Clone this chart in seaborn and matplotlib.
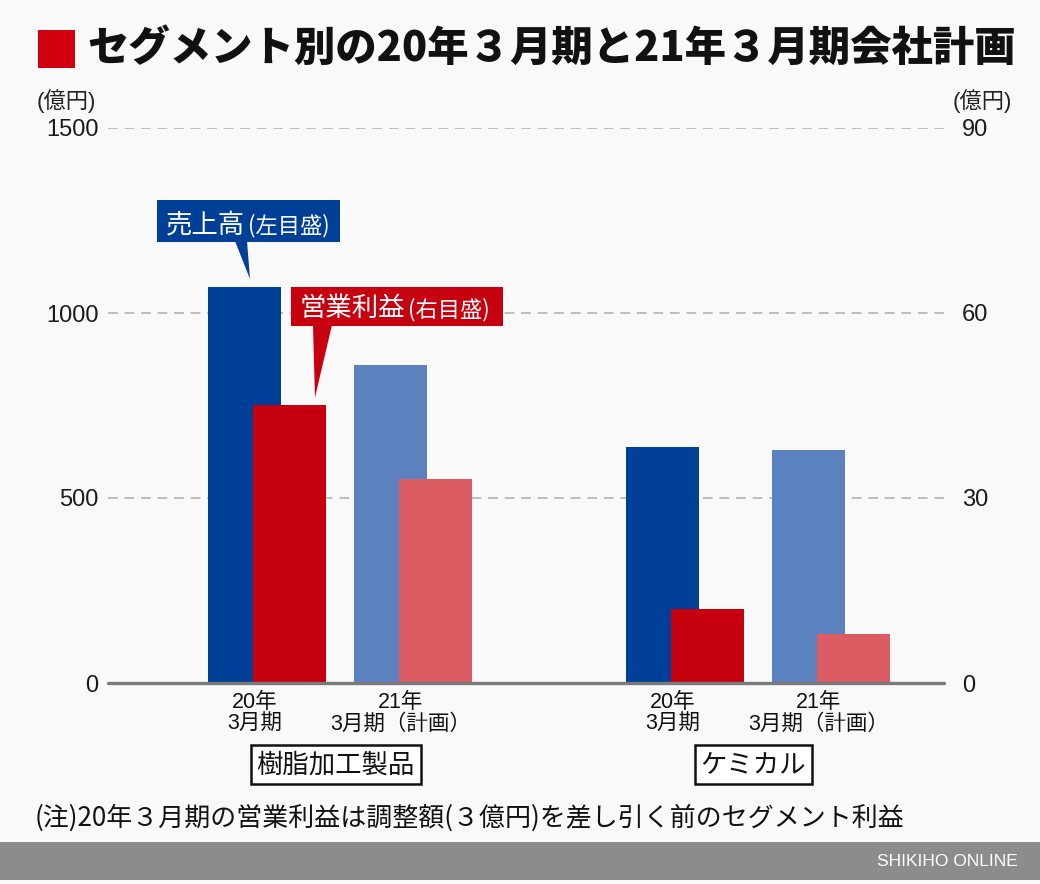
import numpy as np
import pandas as pd
import matplotlib
matplotlib.use("Agg")
import matplotlib.pyplot as plt
import seaborn as sns
from matplotlib.patches import Rectangle, Polygon
from matplotlib.transforms import IdentityTransform

# ---------------- data ----------------
segments = ["樹脂加工製品", "ケミカル"]
periods = ["20年\n3月期", "21年\n3月期（計画）"]
sales = [1070, 860, 638, 630]      # 売上高（億円・左目盛）
profit = [45, 33, 12, 8]           # 営業利益（億円・右目盛）
left_ticks = [0, 500, 1000, 1500]
right_ticks = [0, 30, 60, 90]

title = "セグメント別の20年３月期と21年３月期会社計画"
unit_label = "(億円)"
sales_label = ("売上高", "(左目盛)")
profit_label = ("営業利益", "(右目盛)")
note = "(注)20年３月期の営業利益は調整額(３億円)を差し引く前のセグメント利益"
source = "SHIKIHO ONLINE"

# ---------------- style ----------------
W, H = 1040, 884
BG = "#f9f9f9"
DARK_BLUE, LIGHT_BLUE = "#003f98", "#5b82bf"
RED, LIGHT_RED = "#c6000f", "#db5c63"

sns.set_theme(style="white")
plt.rcParams['font.family'] = ['Liberation Sans', 'Noto Sans CJK JP']
JP = ['Noto Sans CJK JP', 'Liberation Sans']

seg_gap = 2.86
bar_w = 0.5
offset = 0.308

rows_s, rows_p = [], []
k = 0
for i, seg in enumerate(segments):
    for j, per in enumerate(periods):
        x = i * seg_gap + j
        rows_s.append({"x": x, "v": sales[k], "period": per, "seg": seg})
        rows_p.append({"x": x + offset, "v": profit[k], "period": per, "seg": seg})
        k += 1
df_s = pd.DataFrame(rows_s)
df_p = pd.DataFrame(rows_p)

fig = plt.figure(figsize=(W / 100, H / 100), dpi=100, facecolor=BG)
ax = fig.add_axes([108 / W, 1 - 683 / H, 836 / W, 555 / H])
ax.set_facecolor(BG)
ax2 = ax.twinx()
ax2.patch.set_visible(False)

sns.barplot(data=df_s, x="x", y="v", hue="period",
            palette={periods[0]: DARK_BLUE, periods[1]: LIGHT_BLUE},
            native_scale=True, width=bar_w, dodge=False, saturation=1,
            legend=False, linewidth=0, errorbar=None, ax=ax)
sns.barplot(data=df_p, x="x", y="v", hue="period",
            palette={periods[0]: RED, periods[1]: LIGHT_RED},
            native_scale=True, width=bar_w, dodge=False, saturation=1,
            legend=False, linewidth=0, errorbar=None, ax=ax2)

xmin, xmax = -0.935, 4.791
for a in (ax, ax2):
    a.set_xlim(xmin, xmax)
    a.set_xticks([])
    a.set_xlabel("")
    a.set_ylabel("")
    for s in a.spines.values():
        s.set_visible(False)
ax.set_ylim(0, 1500)
ax2.set_ylim(0, 90)
ax.set_yticks(left_ticks)
ax2.set_yticks(right_ticks)
ax.set_yticklabels([str(t) for t in left_ticks])
ax2.set_yticklabels([str(t) for t in right_ticks])
ax.tick_params(axis="y", length=0, pad=7, labelsize=17, labelcolor="#1a1a1a")
ax2.tick_params(axis="y", length=0, pad=13, labelsize=17, labelcolor="#1a1a1a")
ax.grid(False)
ax2.grid(False)
for t in left_ticks[1:]:
    ax.axhline(t, color="#bdbdbd", lw=1.4, ls=(0, (5, 3.5)), zorder=0.5)
ax2.axhline(0, color="#7a7a7a", lw=2.4, zorder=5, clip_on=False)

# category labels
xt = ax.get_xaxis_transform()
for x, per in zip(df_s["x"], df_s["period"]):
    ax.text(x + 0.07, -0.054, per, transform=xt, ha="center", va="center",
            fontsize=15.5, linespacing=1.05, color="#111", family=JP[::-1])
for i, seg in enumerate(segments):
    cx = (df_s["x"][df_s["seg"] == seg].mean() + df_p["x"][df_p["seg"] == seg].mean()) / 2 - 0.03
    ax.text(cx, -0.147, seg, transform=xt, ha="center", va="center",
            fontsize=19, color="#111", family=JP,
            bbox=dict(boxstyle="square,pad=0.22", fc="white", ec="#111", lw=1.8))

# unit labels
fig.text(37 / W, 1 - 101 / H, unit_label, ha="left", va="center", fontsize=16, color="#222")
fig.text(953 / W, 1 - 101 / H, unit_label, ha="left", va="center", fontsize=16, color="#222")

# title
fig.add_artist(Rectangle((38 / W, 1 - 68 / H), 37 / W, 38 / H, transform=fig.transFigure,
                         fc="#d0000f", ec="none"))
fig.text(87 / W, 1 - 49 / H, title, ha="left", va="center", fontsize=29.8,
         fontweight="black", color="#111", family=JP)

# callouts (anchored to bar tops)
fig.canvas.draw()
idt = IdentityTransform()

def callout(axis, x, y, dx, box, base, texts, color, sizes):
    tx, ty = axis.transData.transform((x, y))
    tip = (tx + dx, ty + 8)
    x0, x1, ytop, ybot = box  # pixel, top-origin
    fig.add_artist(Rectangle((x0, H - ybot), x1 - x0, ybot - ytop, transform=idt,
                             fc=color, ec="none", zorder=10))
    fig.add_artist(Polygon([(base[0], H - ybot + 1), (base[1], H - ybot + 1), tip],
                           closed=True, transform=idt, fc=color, ec="none", zorder=10))
    t1 = fig.text(0, 0, texts[0], transform=idt, fontsize=sizes[0], color="white",
                  family=JP, va="baseline", ha="left", zorder=11)
    t1.set_position((x0 + 9, H - ybot + 10))
    fig.canvas.draw()
    bb = t1.get_window_extent()
    fig.text(bb.x1 + 3, H - ybot + 10, texts[1], transform=idt, fontsize=sizes[1],
             color="white", family=JP, va="baseline", ha="left", zorder=11)

callout(ax, df_s["x"][0], sales[0], 5.5, (157, 340, 200, 242), (235, 247),
        sales_label, DARK_BLUE, (19, 16))
callout(ax2, df_p["x"][0], profit[0], 25.5, (291, 503, 287, 326), (313, 332),
        profit_label, RED, (19, 16))

# note
fig.text(35 / W, 1 - 818 / H, note, ha="left", va="center", fontsize=18.7,
         color="#111", family=JP)

# footer band
fig.add_artist(Rectangle((0, 1 - 880 / H), 1, 38 / H, transform=fig.transFigure,
                         fc="#8c8c8c", ec="none"))
fig.text(1018 / W, 1 - 861 / H, source, ha="right", va="center", fontsize=12.5,
         color="white")

fig.savefig("out.png", dpi=100, facecolor=BG)
